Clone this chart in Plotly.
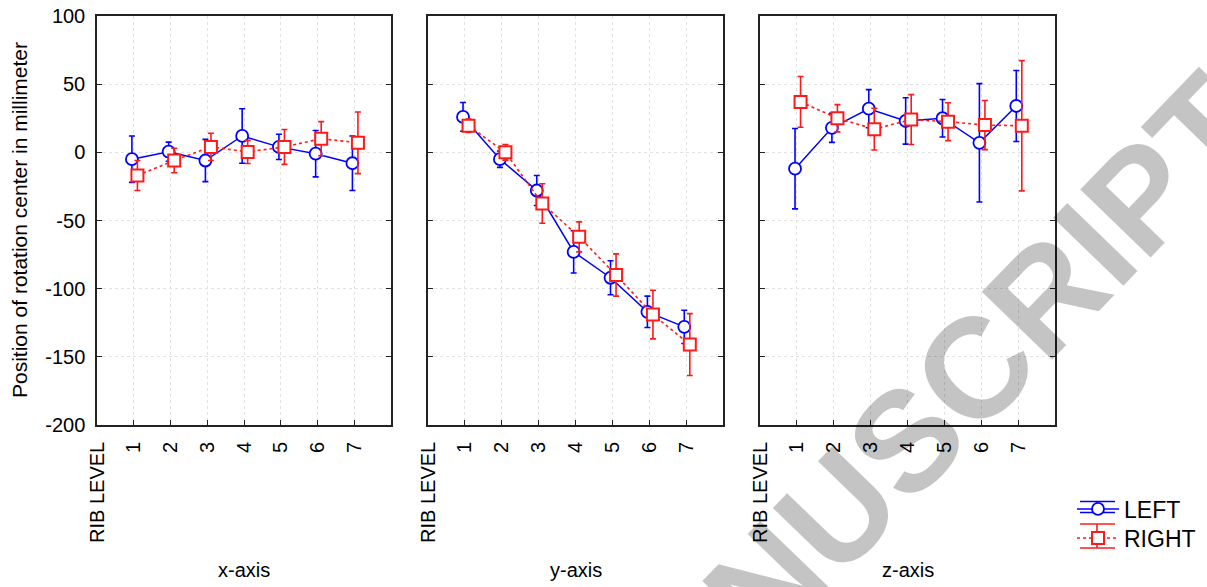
import plotly.graph_objects as go

# ---------------- data ----------------
tick_labels = ["RIB LEVEL", "1", "2", "3", "4", "5", "6", "7"]
rib_levels = [1, 2, 3, 4, 5, 6, 7]
y_tick_values = [-200, -150, -100, -50, 0, 50, 100]
y_tick_labels = ["-200", "-150", "-100", "-50", "0", "50", "100"]
panel_titles = ["x-axis", "y-axis", "z-axis"]
series_names = ["LEFT", "RIGHT"]

x_left_mean = [-5, 0.5, -6, 12, 4, -1, -8]
x_left_err = [17, 7, 15.5, 20, 9.3, 17, 20]
x_right_mean = [-17, -6, 4, 0.3, 4, 10, 7]
x_right_err = [11, 9, 10, 8.5, 12.8, 12.5, 22.6]

y_left_mean = [26, -5, -28, -73, -92, -117, -128]
y_left_err = [10.5, 6, 11, 15.5, 12.5, 11.5, 12.2]
y_right_mean = [19.5, 0, -37.5, -62, -90, -119, -141]
y_right_err = [5, 5.7, 14.5, 11, 15.5, 17.8, 22.7]

z_left_mean = [-12, 18, 32, 23, 25, 7, 34]
z_left_err = [29.5, 10.7, 14, 17, 13.8, 43.4, 26]
z_right_mean = [37, 25, 17, 24, 22.5, 20, 19.5]
z_right_err = [18.6, 10, 15.3, 18.3, 13.9, 18, 47.8]

left_means = [x_left_mean, y_left_mean, z_left_mean]
left_errs = [x_left_err, y_left_err, z_left_err]
right_means = [x_right_mean, y_right_mean, z_right_mean]
right_errs = [x_right_err, y_right_err, z_right_err]

# ---------------- style ----------------
W, H = 1207, 587
ML, MR, MT, MB = 97, 152, 16, 162
PW = W - ML - MR
PH = H - MT - MB
FONT = "Liberation Sans, Arial, sans-serif"
BLUE = "#0000ff"
RED = "#ff1a1a"
LEFT_OFF = -0.05
RIGHT_OFF = 0.1

panel_px = [(97, 391), (428, 723), (760, 1055)]


def px_x(p):
    return (p - ML) / PW


def px_y(p):
    return (H - MB - p) / PH


fig = go.Figure()

for i in range(3):
    xa = "x" if i == 0 else f"x{i+1}"
    ya = "y" if i == 0 else f"y{i+1}"
    fig.add_trace(go.Scatter(
        x=[r + LEFT_OFF for r in rib_levels], y=left_means[i],
        xaxis=xa, yaxis=ya, name=series_names[0], legendgroup="L",
        legend="legend",
        showlegend=(i == 0), mode="lines+markers",
        line=dict(color=BLUE, width=1.5),
        marker=dict(symbol="circle", size=12, color="white",
                    line=dict(color=BLUE, width=1.8)),
        error_y=dict(type="data", array=left_errs[i], color=BLUE,
                     thickness=1.6, width=3),
        cliponaxis=False,
    ))
    fig.add_trace(go.Scatter(
        x=[r + RIGHT_OFF for r in rib_levels], y=right_means[i],
        xaxis=xa, yaxis=ya, name=series_names[1], legendgroup="R",
        legend="legend2",
        showlegend=(i == 0), mode="lines+markers",
        line=dict(color=RED, width=1.6, dash="dot"),
        marker=dict(symbol="square", size=12, color="white",
                    line=dict(color=RED, width=2)),
        error_y=dict(type="data", array=right_errs[i], color=RED,
                     thickness=1.6, width=3),
        cliponaxis=False,
    ))

axis_common = dict(
    showline=True, linecolor="#222222", linewidth=1.5,
    showgrid=True, gridcolor="#e2e2e2", griddash="dot", gridwidth=1,
    zeroline=False, ticks="inside", ticklen=5, tickcolor="#222222",
    automargin=False,
)

legend_common = dict(xanchor="left", yanchor="middle",
                     font=dict(family=FONT, size=23, color="black"),
                     bgcolor="rgba(0,0,0,0)", itemwidth=42,
                     borderwidth=0)

layout = dict(
    width=W, height=H,
    margin=dict(l=ML, r=MR, t=MT, b=MB, autoexpand=False),
    paper_bgcolor="white", plot_bgcolor="white",
    font=dict(family=FONT, color="black"),
    showlegend=True,
    legend=dict(legend_common, x=px_x(1072), y=px_y(509)),
    legend2=dict(legend_common, x=px_x(1072), y=px_y(538)),
)

for i in range(3):
    xk = "xaxis" if i == 0 else f"xaxis{i+1}"
    yk = "yaxis" if i == 0 else f"yaxis{i+1}"
    x0, x1 = panel_px[i]
    layout[xk] = dict(axis_common, domain=[px_x(x0), px_x(x1)], range=[0, 8],
                      mirror=True,
                      tickmode="array", tickvals=list(range(len(tick_labels))),
                      ticktext=tick_labels, tickangle=-90,
                      ticklabelstandoff=7,
                      tickfont=dict(family=FONT, size=20, color="black"),
                      anchor="y" if i == 0 else f"y{i+1}")
    layout[yk] = dict(axis_common, domain=[0, 1], range=[-200, 100],
                      tickmode="array", tickvals=y_tick_values,
                      ticktext=y_tick_labels,
                      mirror="ticks",
                      showticklabels=(i == 0),
                      ticklabelstandoff=6,
                      tickfont=dict(family=FONT, size=20, color="black"),
                      anchor="x" if i == 0 else f"x{i+1}")

fig.update_layout(**layout)

# error-bar caps in the legend keys
shapes = []
for (yc, half, col) in [(507, 5.5, BLUE), (536, 12, RED)]:
    for yy in (yc - half, yc + half):
        shapes.append(dict(type="line", xref="paper", yref="paper",
                           x0=px_x(1080), x1=px_x(1115), y0=px_y(yy), y1=px_y(yy),
                           line=dict(color=col, width=1.6)))
    shapes.append(dict(type="line", xref="paper", yref="paper",
                       x0=px_x(1097), x1=px_x(1097),
                       y0=px_y(yc - half), y1=px_y(yc + half),
                       line=dict(color=col, width=1.6), layer="below"))
fig.update_layout(shapes=shapes)

annotations = []
for i in range(3):
    x0, x1 = panel_px[i]
    annotations.append(dict(
        text=panel_titles[i], xref="paper", yref="paper",
        x=px_x((x0 + x1) / 2), y=px_y(570), xanchor="center", yanchor="middle",
        showarrow=False, font=dict(family=FONT, size=20, color="black")))
annotations.append(dict(
    text="Position of rotation center in millimeter", xref="paper", yref="paper",
    x=px_x(19), y=px_y(220), xanchor="center", yanchor="middle", textangle=-90,
    showarrow=False, font=dict(family=FONT, size=21, color="black")))
# watermark
annotations.append(dict(
    text="<b>ACCEPTED MANUSCRIPT</b>", xref="paper", yref="paper",
    x=px_x(620), y=px_y(735), xanchor="center", yanchor="middle", textangle=-46,
    showarrow=False, font=dict(family=FONT, size=142, color="rgba(0,0,0,0.23)")))
fig.update_layout(annotations=annotations)

fig.write_html("out.html")
